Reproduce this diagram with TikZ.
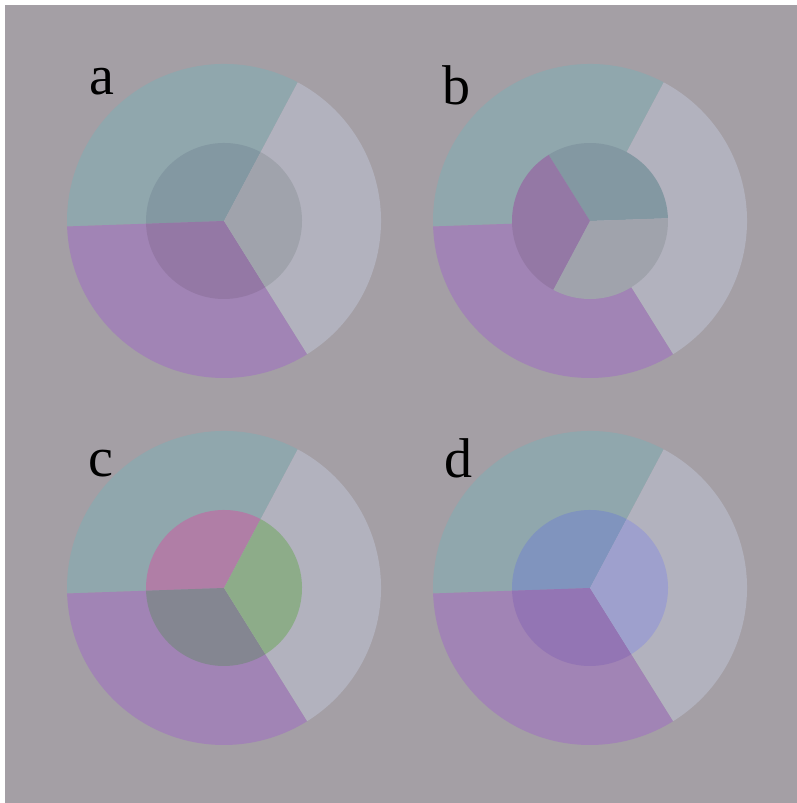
\documentclass[tikz,border=0pt]{standalone}
\usepackage{fontspec}
\setmainfont{Liberation Serif}
\definecolor{bggray}{RGB}{164,159,165}
\definecolor{ringteal}{RGB}{144,167,173}
\definecolor{ringpurple}{RGB}{161,132,181}
\definecolor{ringgray}{RGB}{178,178,190}
\definecolor{inteal}{RGB}{131,152,162}
\definecolor{inpurple}{RGB}{148,120,165}
\definecolor{ingray}{RGB}{160,163,172}
\definecolor{inpink}{RGB}{176,126,166}
\definecolor{ingreen}{RGB}{141,172,137}
\definecolor{indark}{RGB}{132,134,145}
\definecolor{inblue}{RGB}{128,148,190}
\definecolor{inlavender}{RGB}{158,160,205}
\definecolor{inviolet}{RGB}{147,117,180}
% sector: centre, radius, start angle, end angle
\newcommand\sector[4]{%
  (#1) -- ++(#3:#2) arc[start angle=#3, end angle=#4, radius=#2] -- cycle}
\tikzset{
  panel label/.style={anchor=base west, inner sep=0pt, font=\fontsize{56}{60}\selectfont}
}
\begin{document}
\begin{tikzpicture}[x=1pt,y=1pt]
\useasboundingbox (0,0) rectangle (797,803);
\fill[white] (0,0) rectangle (797,803);
\fill[bggray] (5,0) rectangle (797,798);
% the four panels
\foreach \cx/\cy/\name in {224/582/a, 590/582/b, 224/215/c, 590/215/d}{
  \coordinate (\name) at (\cx,\cy);
  \fill[ringteal]   \sector{\name}{157}{62}{182};
  \fill[ringpurple] \sector{\name}{157}{182}{302};
  \fill[ringgray]   \sector{\name}{157}{302}{422};
}
% inner discs
\fill[inteal]   \sector{a}{78}{62}{182};
\fill[inpurple] \sector{a}{78}{182}{302};
\fill[ingray]   \sector{a}{78}{302}{422};
\fill[inteal]   \sector{b}{78}{2}{122};
\fill[inpurple] \sector{b}{78}{122}{242};
\fill[ingray]   \sector{b}{78}{242}{362};
\fill[inpink]   \sector{c}{78}{62}{182};
\fill[indark]   \sector{c}{78}{182}{302};
\fill[ingreen]  \sector{c}{78}{302}{422};
\fill[inblue]     \sector{d}{78}{62}{182};
\fill[inviolet]   \sector{d}{78}{182}{302};
\fill[inlavender] \sector{d}{78}{302}{422};
% panel letters
\node[panel label] (la) at (89,708) {a};
\node[panel label] (lb) at (442,698) {b};
\node[panel label] (lc) at (88,326) {c};
\node[panel label] (ld) at (444,325) {d};
\end{tikzpicture}
\end{document}
